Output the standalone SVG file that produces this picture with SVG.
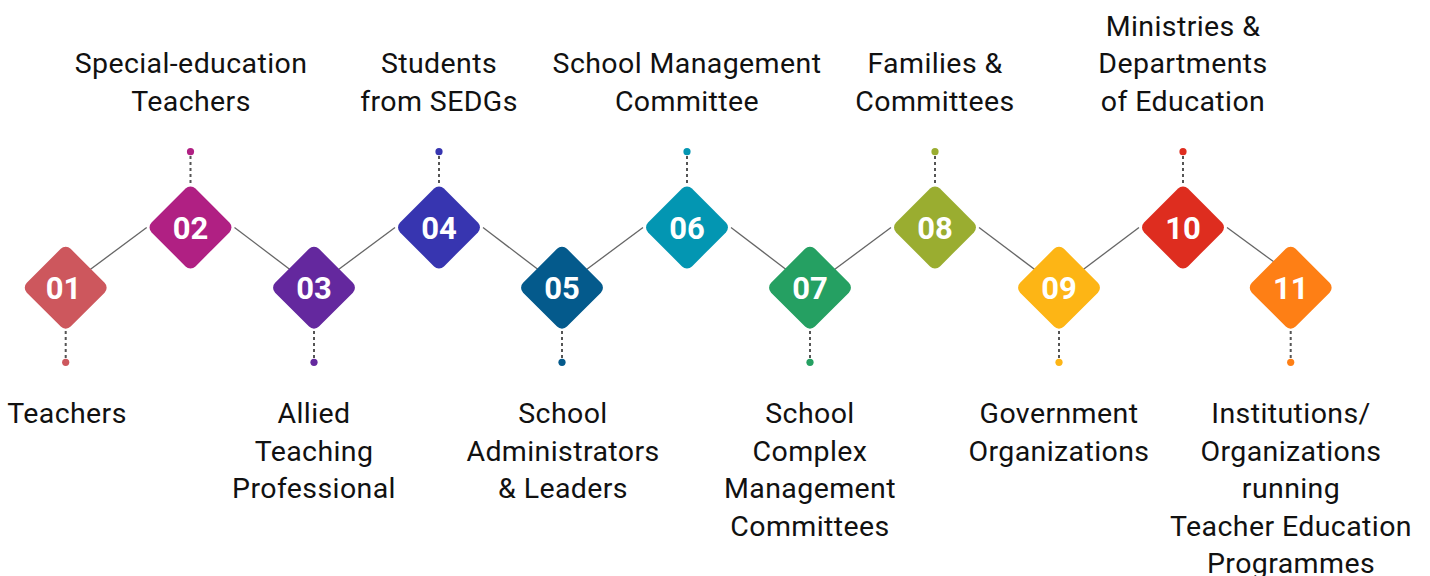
<svg xmlns="http://www.w3.org/2000/svg" width="1430" height="576" viewBox="0 0 1430 576">
<style>
.lbl{font-family:Roboto,"Liberation Sans",sans-serif;font-size:28.5px;letter-spacing:0.4px;fill:#111;text-anchor:middle}
.num{font-family:Roboto,"Liberation Sans",sans-serif;font-size:31px;font-weight:bold;fill:#fff;text-anchor:middle}
.conn{stroke:#666;stroke-width:1.3;fill:none}
.dash{stroke:#555;stroke-width:2;stroke-dasharray:3 3;fill:none}
</style>
<defs>
<rect id="dia" x="-31" y="-31" width="62" height="62" rx="7" ry="7" transform="rotate(45)"/>
</defs>
<rect width="1430" height="576" fill="#fff"/>
<g id="connectors">
<line class="conn" x1="65.7" y1="287.7" x2="146.7" y2="227.5"/>
<line class="conn" x1="234.5" y1="227.5" x2="314" y2="287.7"/>
<line class="conn" x1="314" y1="287.7" x2="395" y2="227.5"/>
<line class="conn" x1="483" y1="227.5" x2="562" y2="287.7"/>
<line class="conn" x1="562" y1="287.7" x2="643" y2="227.5"/>
<line class="conn" x1="731" y1="227.5" x2="810" y2="287.7"/>
<line class="conn" x1="810" y1="287.7" x2="891" y2="227.5"/>
<line class="conn" x1="979" y1="227.5" x2="1059" y2="287.7"/>
<line class="conn" x1="1059" y1="287.7" x2="1139" y2="227.5"/>
<line class="conn" x1="1227" y1="227.5" x2="1309" y2="287.7"/>
</g>
<g id="n01">
<line class="dash" x1="65.7" y1="331" x2="65.7" y2="358"/>
<circle cx="65.7" cy="362.3" r="3.6" fill="#CD575D"/>
<use href="#dia" x="65.7" y="287.7" fill="#CD575D"/>
<text class="num" x="63.5" y="299">01</text>
<text class="lbl" x="67" y="423">Teachers</text>
</g>
<g id="n02">
<line class="dash" x1="190.5" y1="156" x2="190.5" y2="185"/>
<circle cx="190.5" cy="151.7" r="3.6" fill="#B02083"/>
<use href="#dia" x="190.5" y="227.5" fill="#B02083"/>
<text class="num" x="190.5" y="238.8">02</text>
<text class="lbl" x="191" y="73.3">Special-education</text>
<text class="lbl" x="191" y="111">Teachers</text>
</g>
<g id="n03">
<line class="dash" x1="314" y1="331" x2="314" y2="358"/>
<circle cx="314" cy="362.3" r="3.6" fill="#64289E"/>
<use href="#dia" x="314" y="287.7" fill="#64289E"/>
<text class="num" x="314" y="299">03</text>
<text class="lbl" x="314" y="423">Allied</text>
<text class="lbl" x="314" y="460.6">Teaching</text>
<text class="lbl" x="314" y="498.2">Professional</text>
</g>
<g id="n04">
<line class="dash" x1="439" y1="156" x2="439" y2="185"/>
<circle cx="439" cy="151.7" r="3.6" fill="#3735B0"/>
<use href="#dia" x="439" y="227.5" fill="#3735B0"/>
<text class="num" x="439" y="238.8">04</text>
<text class="lbl" x="439" y="73.3">Students</text>
<text class="lbl" x="439" y="111">from SEDGs</text>
</g>
<g id="n05">
<line class="dash" x1="562" y1="331" x2="562" y2="358"/>
<circle cx="562" cy="362.3" r="3.6" fill="#045A8C"/>
<use href="#dia" x="562" y="287.7" fill="#045A8C"/>
<text class="num" x="562" y="299">05</text>
<text class="lbl" x="563" y="423">School</text>
<text class="lbl" x="563" y="460.6">Administrators</text>
<text class="lbl" x="563" y="498.2">&amp; Leaders</text>
</g>
<g id="n06">
<line class="dash" x1="687" y1="156" x2="687" y2="185"/>
<circle cx="687" cy="151.7" r="3.6" fill="#0396B2"/>
<use href="#dia" x="687" y="227.5" fill="#0396B2"/>
<text class="num" x="687" y="238.8">06</text>
<text class="lbl" x="687" y="73.3">School Management</text>
<text class="lbl" x="687" y="111">Committee</text>
</g>
<g id="n07">
<line class="dash" x1="810" y1="331" x2="810" y2="358"/>
<circle cx="810" cy="362.3" r="3.6" fill="#25A062"/>
<use href="#dia" x="810" y="287.7" fill="#25A062"/>
<text class="num" x="810" y="299">07</text>
<text class="lbl" x="810" y="423">School</text>
<text class="lbl" x="810" y="460.6">Complex</text>
<text class="lbl" x="810" y="498.2">Management</text>
<text class="lbl" x="810" y="535.8">Committees</text>
</g>
<g id="n08">
<line class="dash" x1="935" y1="156" x2="935" y2="185"/>
<circle cx="935" cy="151.7" r="3.6" fill="#9AAD30"/>
<use href="#dia" x="935" y="227.5" fill="#9AAD30"/>
<text class="num" x="935" y="238.8">08</text>
<text class="lbl" x="935" y="73.3">Families &amp;</text>
<text class="lbl" x="935" y="111">Committees</text>
</g>
<g id="n09">
<line class="dash" x1="1059" y1="331" x2="1059" y2="358"/>
<circle cx="1059" cy="362.3" r="3.6" fill="#FDB515"/>
<use href="#dia" x="1059" y="287.7" fill="#FDB515"/>
<text class="num" x="1059" y="299">09</text>
<text class="lbl" x="1059" y="423">Government</text>
<text class="lbl" x="1059" y="460.6">Organizations</text>
</g>
<g id="n10">
<line class="dash" x1="1183" y1="156" x2="1183" y2="185"/>
<circle cx="1183" cy="151.7" r="3.6" fill="#DE2D1F"/>
<use href="#dia" x="1183" y="227.5" fill="#DE2D1F"/>
<text class="num" x="1183" y="238.8">10</text>
<text class="lbl" x="1183" y="35.6">Ministries &amp;</text>
<text class="lbl" x="1183" y="73.3">Departments</text>
<text class="lbl" x="1183" y="111">of Education</text>
</g>
<g id="n11">
<line class="dash" x1="1290.7" y1="331" x2="1290.7" y2="358"/>
<circle cx="1290.7" cy="362.3" r="3.6" fill="#FE7F15"/>
<use href="#dia" x="1290.7" y="287.7" fill="#FE7F15"/>
<text class="num" x="1290.7" y="299">11</text>
<text class="lbl" x="1291" y="423">Institutions/</text>
<text class="lbl" x="1291" y="460.6">Organizations</text>
<text class="lbl" x="1291" y="498.2">running</text>
<text class="lbl" x="1291" y="535.8">Teacher Education</text>
<text class="lbl" x="1291" y="573.4">Programmes</text>
</g>
</svg>
